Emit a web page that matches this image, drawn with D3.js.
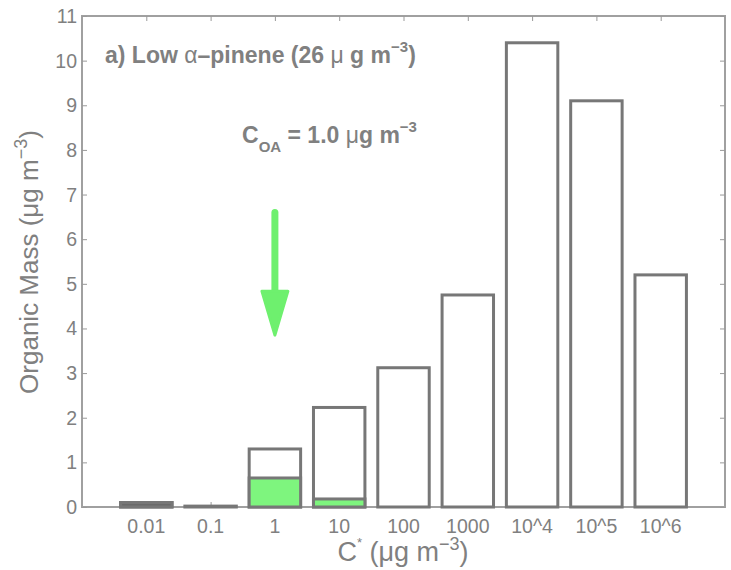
<!DOCTYPE html>
<html>
<head>
<meta charset="UTF-8">
<title>Organic Mass</title>
<script type="text/javascript" src="https://cdn.jsdelivr.net/npm/d3@7"></script>
<style type="text/css">
body{margin:0;background:#fff;}
text{font-family:"Liberation Sans",Arial,sans-serif;}
</style>
</head>
<body>
<script type="text/javascript">
var width=731,height=570;
var margin={top:16,right:6,bottom:63,left:82};
// 数据
var categories=["0.01","0.1","1","10","100","1000","10^4","10^5","10^6"];
var totalMass=[0.1,0.02,1.3,2.23,3.12,4.75,10.4,9.1,5.2];
var aerosolMass=[0.1,0.0,0.65,0.18,0,0,0,0,0];
var yTicks=[0,1,2,3,4,5,6,7,8,9,10,11];
var arrowFrom=6.6,arrowTo=3.85;

var xScale=d3.scaleLinear().domain([0,10]).range([margin.left,width-margin.right]);
var yScale=d3.scaleLinear().domain([0,11]).range([height-margin.bottom,margin.top]);
var bw=(xScale(1)-xScale(0))*0.8;

var svg=d3.select("body").append("svg").attr("width",width).attr("height",height);

var txt="#808080";

// 坐标框
svg.append("rect")
   .attr("x",xScale(0)).attr("y",yScale(11))
   .attr("width",xScale(10)-xScale(0)).attr("height",yScale(0)-yScale(11))
   .attr("fill","none").attr("stroke","#a0a0a0").attr("stroke-width",2);

// 左右刻度
var yl=svg.append("g").attr("transform","translate("+xScale(0)+",0)")
   .call(d3.axisRight(yScale).tickValues(yTicks).tickSize(5).tickFormat(""));
yl.select(".domain").remove();
yl.selectAll("line").attr("stroke","#999");
var yr=svg.append("g").attr("transform","translate("+xScale(10)+",0)")
   .call(d3.axisLeft(yScale).tickValues(yTicks).tickSize(5).tickFormat(""));
yr.select(".domain").remove();
yr.selectAll("line").attr("stroke","#999");
svg.selectAll(".ylab").data(yTicks).enter().append("text")
   .attr("x",xScale(0)-5).attr("y",function(d){return yScale(d)+7;})
   .attr("text-anchor","end").attr("font-size","19.5px").attr("fill",txt)
   .text(function(d){return d;});

// 上下刻度
var idx=d3.range(1,10);
var xb=svg.append("g").attr("transform","translate(0,"+yScale(0)+")")
   .call(d3.axisTop(xScale).tickValues(idx).tickSize(5).tickFormat(""));
xb.select(".domain").remove();
xb.selectAll("line").attr("stroke","#999");
var xt=svg.append("g").attr("transform","translate(0,"+yScale(11)+")")
   .call(d3.axisBottom(xScale).tickValues(idx).tickSize(5).tickFormat(""));
xt.select(".domain").remove();
xt.selectAll("line").attr("stroke","#999");
svg.selectAll(".xlab").data(categories).enter().append("text")
   .attr("x",function(d,i){return xScale(i+1);}).attr("y",yScale(0)+26)
   .attr("text-anchor","middle").attr("font-size","19.5px").attr("fill",txt)
   .text(function(d){return d;});

// 柱子
svg.append("g").selectAll("rect").data(totalMass).enter().append("rect")
   .attr("x",function(d,i){return xScale(i+1)-bw/2;})
   .attr("y",function(d){return yScale(d);})
   .attr("width",bw)
   .attr("height",function(d){return yScale(0)-yScale(d);})
   .attr("fill","#fff").attr("stroke","#777").attr("stroke-width",3);
svg.append("g").selectAll("rect").data(aerosolMass).enter().append("rect")
   .attr("x",function(d,i){return xScale(i+1)-bw/2;})
   .attr("y",function(d){return yScale(d);})
   .attr("width",bw)
   .attr("height",function(d){return yScale(0)-yScale(d);})
   .attr("fill",function(d,i){return i==0?"#6a6a6a":"#7ef57e";})
   .attr("stroke","#777").attr("stroke-width",function(d){return d>0?3:0;});

// 箭头
var ax=xScale(3);
svg.append("line")
   .attr("x1",ax).attr("x2",ax)
   .attr("y1",yScale(arrowFrom)).attr("y2",yScale(arrowTo)-30)
   .attr("stroke","#6ef06e").attr("stroke-width",7).attr("stroke-linecap","round");
svg.append("path")
   .attr("d","M"+(ax-13)+","+(yScale(arrowTo)-44)+" L"+(ax+13)+","+(yScale(arrowTo)-44)+" L"+ax+","+yScale(arrowTo)+" Z")
   .attr("fill","#6ef06e").attr("stroke","#6ef06e").attr("stroke-width",3).attr("stroke-linejoin","round");

// 标注
var t1=svg.append("text").attr("x",105).attr("y",63)
   .attr("font-size","23px").attr("font-weight","bold").attr("fill",txt);
t1.append("tspan").text("a) Low ");
t1.append("tspan").attr("font-weight","normal").text("α");
t1.append("tspan").text("–pinene (26 ");
t1.append("tspan").attr("font-weight","normal").text("μ");
t1.append("tspan").text(" g m");
t1.append("tspan").attr("dy",-11).attr("font-size","15px").text("−3");
t1.append("tspan").attr("dy",11).text(")");

var t2=svg.append("text").attr("x",242).attr("y",143)
   .attr("font-size","23px").attr("font-weight","bold").attr("fill",txt);
t2.append("tspan").text("C");
t2.append("tspan").attr("dy",9).attr("font-size","15px").text("OA");
t2.append("tspan").attr("dy",-9).text(" = 1.0 ");
t2.append("tspan").attr("font-weight","normal").text("μ");
t2.append("tspan").text("g m");
t2.append("tspan").attr("dy",-11).attr("font-size","15px").text("−3");

// 轴标题
var yt=svg.append("text").attr("transform","translate(38,262) rotate(-90)")
   .attr("text-anchor","middle").attr("font-size","26px").attr("fill",txt);
yt.append("tspan").text("Organic Mass (μg m");
yt.append("tspan").attr("dy",-11).attr("font-size","18px").text("−3");
yt.append("tspan").attr("dy",11).text(")");

var xtt=svg.append("text").attr("x",403).attr("y",561)
   .attr("text-anchor","middle").attr("font-size","27px").attr("fill",txt);
xtt.append("tspan").text("C");
xtt.append("tspan").attr("dy",-14).attr("font-size","13px").text("*");
xtt.append("tspan").attr("dy",14).text(" (μg m");
xtt.append("tspan").attr("dy",-11).attr("font-size","18px").text("−3");
xtt.append("tspan").attr("dy",11).text(")");
</script>
</body>
</html>
